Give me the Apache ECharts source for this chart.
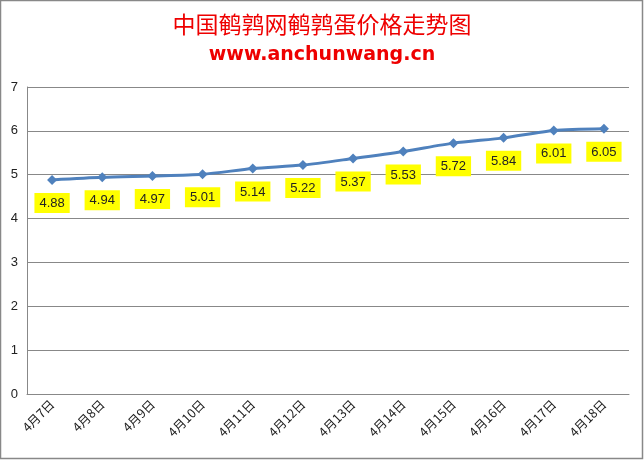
<!DOCTYPE html>
<html><head><meta charset="utf-8">
<script src="https://cdn.jsdelivr.net/npm/echarts@6/dist/echarts.min.js"></script>
<style>html,body{margin:0;padding:0;background:#fff}#c{width:644px;height:460px}</style>
</head><body><div id="c"></div>
<script>
const categories = ['4月7日','4月8日','4月9日','4月10日','4月11日','4月12日','4月13日','4月14日','4月15日','4月16日','4月17日','4月18日'];
const prices = [4.88,4.94,4.97,5.01,5.14,5.22,5.37,5.53,5.72,5.84,6.01,6.05];
const yTicks = [0,1,2,3,4,5,6,7];
const titleText = '中国鹌鹑网鹌鹑蛋价格走势图';
const subtitleText = 'www.anchunwang.cn';

const chart = echarts.init(document.getElementById('c'), null, {renderer:'canvas'});
chart.setOption({
  backgroundColor:'#fff',
  animation:false,
  title:{
    text:titleText, subtext:subtitleText, left:'center', top:8, itemGap:10,
    textStyle:{color:'#ee0000',fontSize:23,fontWeight:'normal',fontFamily:'Noto Sans CJK SC'},
    subtextStyle:{color:'#ee0000',fontSize:19,fontWeight:'bold',fontFamily:'DejaVu Sans'}
  },
  graphic:[{type:'rect',shape:{x:0.5,y:0.5,width:642,height:458},style:{fill:'none',stroke:'#888',lineWidth:1.5},silent:true}],
  grid:{left:27,right:15,top:87,bottom:66,containLabel:false},
  xAxis:{
    type:'category', data:categories, boundaryGap:true,
    axisLine:{show:true,lineStyle:{color:'#888'}}, axisTick:{show:false},
    axisLabel:{rotate:45,color:'#222',fontSize:12.5,fontFamily:'Noto Sans CJK SC',margin:8,interval:0}
  },
  yAxis:{
    type:'value', min:yTicks[0], max:yTicks[yTicks.length-1], interval:1,
    axisLine:{show:true,lineStyle:{color:'#888'}}, axisTick:{show:false},
    axisLabel:{color:'#222',fontSize:13,fontFamily:'Liberation Sans',margin:9},
    splitLine:{lineStyle:{color:'#888',width:1}}
  },
  series:[{
    type:'line', data:prices, smooth:0.25,
    lineStyle:{color:'#4f81bd',width:3},
    itemStyle:{color:'#4f81bd'},
    symbol:'diamond', symbolSize:10,
    label:{show:true,position:'bottom',distance:8,color:'#222',fontSize:13,fontFamily:'Liberation Sans',
      backgroundColor:'#ffff00',padding:[4,5,3,5],formatter:p=>p.value.toFixed(2)}
  }]
});
</script></body></html>
